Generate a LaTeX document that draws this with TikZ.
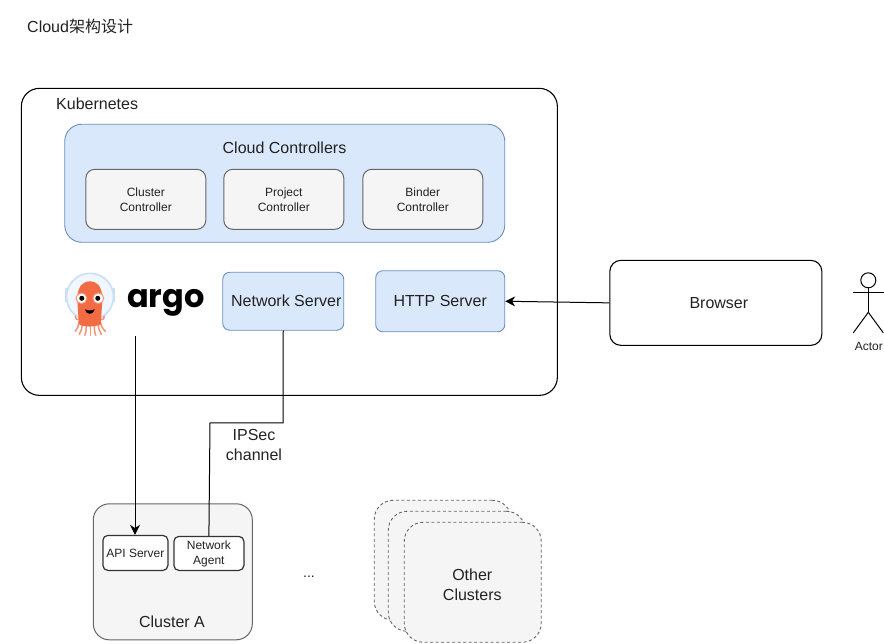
\documentclass[tikz,border=0pt]{standalone}
\usepackage{fontspec}
\setmainfont{Liberation Sans}
\newfontfamily\cjkfont{Noto Sans CJK SC}
\newfontfamily\argofont{Poppins}
\usetikzlibrary{arrows.meta,calc}
\definecolor{bluefill}{HTML}{DAE8FC}
\definecolor{blueline}{HTML}{6C8EBF}
\definecolor{greyfill}{HTML}{F5F5F5}
\definecolor{greyline}{HTML}{666666}
\definecolor{txt}{HTML}{222222}
\definecolor{argoorange}{HTML}{F26B43}
\definecolor{argolight}{HTML}{F79274}
\definecolor{argohelmet}{HTML}{C9DEF7}
\definecolor{helmetin}{HTML}{F1F7FE}
\tikzset{
  base/.style={inner sep=0pt,align=center,text=txt,font=\fontsize{#1}{\dimexpr#1pt*5/4\relax}\selectfont},
  base/.default=16,
  bluebox/.style={draw=blueline,fill=bluefill,line width=0.9pt,rounded corners=#1,base=16},
  bluebox/.default=7pt,
  greybox/.style={draw=greyline,fill=greyfill,line width=1pt,rounded corners=9pt,base=12},
  whitebox/.style={draw=black,fill=white,line width=1.1pt,rounded corners=#1,base=16},
  smallbox/.style={draw=black!80,fill=white,line width=1.2pt,rounded corners=5pt,base=12},
  dashbox/.style={draw=greyline,fill=greyfill,dash pattern=on 3pt off 2.5pt,line width=0.9pt,rounded corners=19pt,base=16},
  link/.style={draw=black,line width=1pt},
  arrowlink/.style={link,-{Stealth[length=10pt,width=10pt]}},
  tentacle/.style={draw=argolight,line width=1.5pt,line cap=round},
}
\begin{document}
\begin{tikzpicture}[x=1pt,y=-1pt]
\useasboundingbox (0,0) rectangle (884,643);
\fill[white] (0,0) rectangle (884,643);
\begin{scope}[shift={(-0.7,-0.7)}]
\node[base=16,anchor=west] (title) at (27.7,26.7) {Cloud{\cjkfont 架构设计}};
% Kubernetes
\node[whitebox=18pt,minimum width=536pt,minimum height=307pt,anchor=north west] (k8s) at (21.5,88.5) {};
\node[base=16,anchor=west] (k8slabel) at (56.7,104.2) {Kubernetes};
% Controllers
\node[bluebox=17pt,minimum width=440pt,minimum height=118pt,anchor=north west] (cc) at (65,124.5) {};
\node[base=16,anchor=center] (cclabel) at (285.2,148.2) {Cloud Controllers};
\node[greybox,minimum width=120pt,minimum height=60pt,anchor=north west] (c1) at (86,169.5) {Cluster\\Controller};
\node[greybox,minimum width=120pt,minimum height=60pt,anchor=north west] (c2) at (224,169.5) {Project\\Controller};
\node[greybox,minimum width=120pt,minimum height=60pt,anchor=north west] (c3) at (363,169.5) {Binder\\Controller};
% Servers
\node[bluebox,minimum width=121pt,minimum height=58pt,anchor=north west] (net) at (223,272.5) {\hspace*{6pt}Network Server};
\node[bluebox,minimum width=129pt,minimum height=61pt,anchor=north west] (http) at (376,271) {HTTP Server};
% Browser and actor
\node[whitebox=11pt,minimum width=212pt,minimum height=85pt,anchor=north west] (browser) at (610,260.5) {\hspace*{6pt}Browser};
\node[draw=black,circle,line width=1pt,minimum size=15pt,inner sep=0pt,fill=white] (head) at (869,281) {};
\coordinate (hip) at (869,313);
\draw[link] (head.south) -- (hip);
\draw[link] (853.5,293.5) -- (884.5,293.5);
\draw[link] (hip) -- (854,333.5);
\draw[link] (hip) -- (884,333.5);
\node[base=12] (actor) at (869.5,347.5) {Actor};
% Argo logo
\begin{scope}
  \fill[argohelmet] (65.5,289) rectangle (70,303);
  \fill[argohelmet] (111.5,289) rectangle (116,303);
  \fill[helmetin,draw=argohelmet,line width=1.6pt] (90.7,297.5) circle (23.5);
  \draw[tentacle] (80,322) .. controls (79,327) and (78,330) .. (76,332);
  \draw[tentacle] (83,323) .. controls (83,329) and (82,332) .. (80,335);
  \draw[tentacle] (87,323) .. controls (87,329) and (87,333) .. (85.5,336);
  \draw[tentacle] (91,323) -- (91,336);
  \draw[tentacle] (95,323) .. controls (95,329) and (95,333) .. (96.5,336);
  \draw[tentacle] (99,323) .. controls (99,329) and (100,332) .. (102,335);
  \draw[tentacle] (101,322) .. controls (102,327) and (103,330) .. (106,332);
  \draw[tentacle] (80,320) .. controls (77,321) and (76,319) .. (76,317);
  \draw[tentacle] (101,320) .. controls (104,321) and (105,319) .. (105,317);
  \fill[argoorange]
     (79.5,325) .. controls (79,305) and (73,283) .. (90.7,282)
     .. controls (108,283) and (102,305) .. (101.5,325)
     .. controls (95,328) and (86,328) .. (79.5,325) -- cycle;
  \fill[white,draw=argolight,line width=1pt] (82.2,299) circle (5.4);
  \fill[white,draw=argolight,line width=1pt] (99,299) circle (5.4);
  \fill[black] (82.5,299) circle (2.5);
  \fill[black] (98.5,299) circle (2.5);
  \fill[black] (85.5,310) .. controls (87,316) and (94,316) .. (95.5,310) .. controls (92,311.5) and (89,311.5) .. (85.5,310) -- cycle;
\end{scope}
\node[base=32,anchor=center,text=black] (argo) at (166.5,304) {\argofont\bfseries argo};
\coordinate (argoout) at (135.7,337);
% Clusters
\node[draw=greyline,fill=greyfill,line width=1pt,rounded corners=16pt,minimum width=159pt,minimum height=136pt,anchor=north west] (clusterA) at (93.5,504) {};
\node[base=16] (clusterAlabel) at (172.7,622.7) {Cluster A};
\node[smallbox,minimum width=65pt,minimum height=35pt,anchor=north west] (api) at (103,535.5) {API Server};
\node[smallbox,minimum width=70pt,minimum height=34pt,anchor=north west] (agent) at (174,536.5) {Network\\Agent};
\node[base=14] (dots) at (309.7,577) {...};
\node[dashbox,minimum width=137pt,minimum height=120pt,anchor=north west] (o1) at (374.5,500.5) {};
\node[dashbox,minimum width=137pt,minimum height=120pt,anchor=north west] (o2) at (388.5,511.5) {};
\node[dashbox,minimum width=137pt,minimum height=120pt,anchor=north west] (o3) at (404.5,522.5) {};
\node[base=16] (o3label) at (473,585) {Other\\Clusters};
% Connectors
\coordinate (bend1) at (283.7,423.5);
\coordinate (bend2) at (210.7,423.5);
\draw[arrowlink] (browser.west) -- (http.east);
\draw[arrowlink] (argoout) -- (argoout |- api.north);
\draw[link] (net.south) -- (bend1) -- (bend2) -- (agent.north);
\node[base=16,fill=white,inner xsep=1pt,inner ysep=1pt] (ipsec) at (254.7,445.7) {IPSec\\channel};
\end{scope}
\end{tikzpicture}
\end{document}
